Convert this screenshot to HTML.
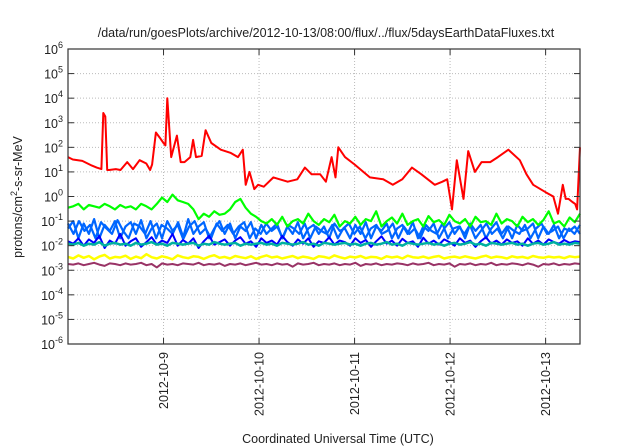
<!DOCTYPE html>
<html><head><meta charset="utf-8"><style>
html,body{margin:0;padding:0;background:#fff;}
svg{display:block;font-family:"Liberation Sans",sans-serif;}
</style></head><body>
<svg id="chart" width="640" height="448" viewBox="0 0 640 448" xmlns="http://www.w3.org/2000/svg">
<rect width="640" height="448" fill="#fff"/>
<text x="326" y="37" font-size="12.5" text-anchor="middle" fill="#222">/data/run/goesPlots/archive/2012-10-13/08:00/flux/../flux/5daysEarthDataFluxes.txt</text>
<text transform="translate(22,197) rotate(-90)" font-size="12.5" text-anchor="middle" fill="#222">protons/cm<tspan dy="-5" font-size="9">2</tspan><tspan dy="5">-s-sr-MeV</tspan></text>
<text x="338" y="443" font-size="12.5" text-anchor="middle" fill="#222">Coordinated Universal Time (UTC)</text>
<g id="grid"></g><g id="series"></g><g id="axes"></g>
</svg>
<script>
const dayLabels = ["2012-10-9","2012-10-10","2012-10-11","2012-10-12","2012-10-13"];
const dayOffsets = [1,2,3,4,5];
const yExponents = [6,5,4,3,2,1,0,-1,-2,-3,-4,-5,-6];
const redDays = [0,0.05,0.15,0.25,0.3,0.35,0.37,0.39,0.41,0.43,0.5,0.55,0.62,0.68,0.75,0.82,0.86,0.88,0.92,0.96,1.0,1.02,1.04,1.08,1.14,1.18,1.22,1.28,1.31,1.34,1.4,1.44,1.5,1.6,1.7,1.78,1.83,1.86,1.9,1.95,1.99,2.05,2.15,2.3,2.4,2.48,2.55,2.64,2.7,2.76,2.8,2.83,2.9,3.0,3.16,3.3,3.4,3.5,3.6,3.7,3.84,3.92,3.97,4.02,4.07,4.14,4.19,4.26,4.33,4.42,4.5,4.61,4.73,4.8,4.87,5.0,5.08,5.13,5.18,5.21,5.24,5.28,5.31,5.33,5.36];
const redVals = [40,32,28,18,15,13,2500,1800,12,12,13,12,25,13,30,22,12,20,400,250,150,120,10000,40,300,25,25,40,200,40,45,500,150,80,60,40,80,3,10,2,3,2.5,6,4,5,15,8,8,4,40,6,100,40,20,6,5,3,5,15,8,3,4,5,0.3,30,0.8,70,10,25,25,40,80,30,8,3,1.5,1,0.2,3,0.8,0.8,0.6,0.5,0.3,100];
const greenVals = [0.35,0.4,0.5,0.3,0.45,0.4,0.35,0.5,0.4,0.3,0.45,0.35,0.4,0.3,0.5,0.4,0.3,0.5,0.9,0.6,1.2,0.7,0.6,0.5,0.3,0.12,0.2,0.15,0.25,0.18,0.2,0.3,0.6,0.8,0.35,0.2,0.15,0.1,0.08,0.12,0.07,0.15,0.06,0.1,0.12,0.08,0.2,0.1,0.07,0.12,0.09,0.18,0.06,0.1,0.08,0.15,0.07,0.12,0.1,0.25,0.06,0.1,0.14,0.08,0.2,0.07,0.1,0.12,0.06,0.16,0.09,0.11,0.07,0.18,0.1,0.08,0.12,0.06,0.15,0.09,0.1,0.07,0.2,0.08,0.12,0.1,0.06,0.15,0.09,0.12,0.07,0.11,0.25,0.08,0.1,0.06,0.14,0.09,0.2];
const azureVals = [0.05,0.1,0.02,0.08,0.03,0.12,0.02,0.07,0.04,0.1,0.02,0.06,0.09,0.03,0.11,0.02,0.05,0.08,0.02,0.1,0.04,0.07,0.02,0.12,0.03,0.06,0.09,0.02,0.05,0.1,0.03,0.08,0.02,0.06,0.04,0.09,0.02,0.07,0.03,0.05,0.08,0.02,0.06,0.03,0.09,0.02,0.05,0.07,0.03,0.06,0.02,0.08,0.04,0.05,0.02,0.07,0.03,0.09,0.02,0.06,0.04,0.08,0.02,0.05,0.07,0.03,0.09,0.02,0.06,0.04,0.08,0.02,0.05,0.09,0.03,0.06,0.02,0.08,0.04,0.07,0.02,0.05,0.09,0.03,0.06,0.02,0.07,0.04,0.05,0.08,0.02,0.06,0.03,0.07,0.02,0.05,0.04,0.06,0.03];
const azureVals2 = [0.08,0.03,0.1,0.04,0.07,0.02,0.09,0.05,0.03,0.11,0.04,0.02,0.08,0.06,0.03,0.1,0.02,0.07,0.05,0.03,0.09,0.02,0.06,0.1,0.03,0.05,0.02,0.08,0.04,0.07,0.03,0.06,0.09,0.02,0.05,0.03,0.08,0.04,0.06,0.02,0.07,0.05,0.03,0.08,0.02,0.06,0.04,0.03,0.07,0.02,0.05,0.08,0.03,0.06,0.02,0.05,0.07,0.03,0.04,0.08,0.02,0.06,0.03,0.05,0.02,0.07,0.04,0.03,0.08,0.02,0.05,0.06,0.03,0.07,0.02,0.04,0.08,0.03,0.05,0.02,0.06,0.04,0.03,0.07,0.02,0.05,0.08,0.03,0.04,0.06,0.02,0.05,0.03,0.07];
const blueVals = [0.015,0.012,0.02,0.01,0.018,0.013,0.025,0.008,0.016,0.012,0.03,0.01,0.015,0.02,0.009,0.014,0.022,0.011,0.016,0.013,0.03,0.01,0.017,0.012,0.02,0.008,0.015,0.025,0.011,0.014,0.018,0.01,0.016,0.022,0.012,0.015,0.009,0.02,0.013,0.016,0.011,0.025,0.014,0.01,0.018,0.012,0.02,0.009,0.015,0.013,0.022,0.011,0.016,0.014,0.01,0.02,0.013,0.017,0.009,0.015,0.024,0.012,0.016,0.01,0.019,0.013,0.015,0.009,0.021,0.012,0.016,0.011,0.018,0.014,0.01,0.02,0.013,0.016,0.009,0.015,0.022,0.012,0.016,0.011,0.018,0.013,0.015,0.01,0.02,0.012,0.016,0.011,0.018,0.014,0.012,0.017,0.013,0.015,0.014];
const tealVals = [0.012,0.011,0.013,0.01,0.012,0.011,0.014,0.01,0.012,0.013,0.011,0.012,0.01,0.013,0.011,0.012,0.014,0.011,0.012,0.01,0.013,0.012,0.011,0.012,0.013,0.01,0.012,0.011,0.014,0.012,0.011,0.012,0.013,0.01,0.012,0.011,0.012,0.013,0.011,0.012,0.01,0.013,0.012,0.011,0.012,0.014,0.011,0.012,0.01,0.013,0.012,0.011,0.012,0.013,0.011,0.012,0.01,0.012,0.013,0.011,0.012,0.014,0.011,0.012,0.01,0.013,0.012,0.011,0.012,0.013,0.011,0.012,0.01,0.012,0.013,0.011,0.012,0.014,0.011,0.012,0.01,0.013,0.012,0.011,0.012,0.013,0.011,0.012,0.01,0.012,0.013,0.011,0.012,0.014,0.011,0.012,0.011,0.013,0.012];
const yellowVals = [0.0035,0.003,0.004,0.0032,0.0038,0.0028,0.0036,0.0042,0.003,0.0035,0.0033,0.0039,0.0029,0.0036,0.0031,0.0045,0.0034,0.003,0.0037,0.0033,0.0028,0.004,0.0034,0.0031,0.0037,0.0035,0.0029,0.0036,0.0041,0.0032,0.0035,0.003,0.0038,0.0034,0.0031,0.0037,0.0029,0.0035,0.004,0.0033,0.0036,0.003,0.0034,0.0038,0.0031,0.0036,0.0033,0.0029,0.0037,0.0035,0.0031,0.004,0.0034,0.003,0.0036,0.0033,0.0038,0.0031,0.0035,0.0034,0.0029,0.0037,0.0033,0.0036,0.003,0.0039,0.0034,0.0032,0.0036,0.0031,0.0035,0.0038,0.003,0.0034,0.0036,0.0032,0.0037,0.0033,0.003,0.0035,0.0039,0.0032,0.0036,0.0034,0.003,0.0037,0.0033,0.0035,0.0031,0.0038,0.0034,0.0032,0.0036,0.0033,0.0035,0.0031,0.0037,0.0034,0.0036];
const purpleVals = [0.0018,0.0017,0.0019,0.0016,0.0018,0.002,0.0017,0.0015,0.0019,0.0018,0.0016,0.0019,0.0017,0.0018,0.002,0.0016,0.0018,0.0013,0.0019,0.0017,0.0018,0.0016,0.0019,0.0018,0.0017,0.002,0.0016,0.0018,0.0017,0.0019,0.0015,0.0018,0.0017,0.0019,0.0016,0.0018,0.002,0.0017,0.0018,0.0016,0.0019,0.0017,0.0018,0.0014,0.0019,0.0017,0.0018,0.002,0.0016,0.0018,0.0017,0.0019,0.0016,0.0018,0.0017,0.002,0.0015,0.0018,0.0017,0.0019,0.0016,0.0018,0.0017,0.0019,0.0018,0.0016,0.0019,0.0017,0.0018,0.002,0.0016,0.0018,0.0017,0.0019,0.0014,0.0018,0.0017,0.0019,0.0016,0.0018,0.0017,0.002,0.0016,0.0018,0.0017,0.0019,0.0018,0.0016,0.0019,0.0017,0.0014,0.0018,0.0017,0.0019,0.0016,0.0018,0.0017,0.0019,0.0018];

const NS="http://www.w3.org/2000/svg";
const L=68,R=580,T=49,B=344,DAYS=5.36;
const xScale=d=>L+d/DAYS*(R-L);
const yScale=v=>T+(6-Math.log10(v))/12*(B-T);
function mk(tag,attrs,parent){const e=document.createElementNS(NS,tag);for(const k in attrs)e.setAttribute(k,attrs[k]);parent.appendChild(e);return e;}
const grid=document.getElementById('grid'),axes=document.getElementById('axes'),series=document.getElementById('series');
yExponents.forEach(e=>{
  const y=yScale(Math.pow(10,e));
  if(e<6&&e>-6){const g=mk('line',{x1:L,x2:R,y1:y,y2:y,stroke:'#bbb','stroke-dasharray':'1,2','stroke-width':1},grid);
  
  }
  mk('line',{x1:L,x2:L+6,y1:y,y2:y,stroke:'#333'},axes);
  mk('line',{x1:R-6,x2:R,y1:y,y2:y,stroke:'#333'},axes);
  const t=mk('text',{x:L-5,y:y+5,'text-anchor':'end','font-size':'12.5',fill:'#222'},axes);
  
  
  t.textContent='10';
  const s=mk('tspan',{dy:-6,'font-size':'9'},t);s.textContent=String(e);
});
dayOffsets.forEach((d,i)=>{
  const x=xScale(d);
  const g=mk('line',{x1:x,x2:x,y1:T,y2:B,stroke:'#bbb','stroke-dasharray':'1,2'},grid);
  
  
  mk('line',{x1:x,x2:x,y1:B-6,y2:B,stroke:'#333'},axes);
  mk('line',{x1:x,x2:x,y1:T,y2:T+6,stroke:'#333'},axes);
  const t=mk('text',{transform:`translate(${x+4.5},352) rotate(-90)`,'text-anchor':'end','font-size':'12.5',fill:'#222'},axes);
  
  
  t.textContent=dayLabels[i];
});
const frame=mk('rect',{x:L,y:T,width:R-L,height:B-T,fill:'none',stroke:'#333','stroke-width':1.2},axes);


function evenLine(vals,color,name,w){
  const pts=vals.map((v,i)=>xScale(i/(vals.length-1)*DAYS).toFixed(1)+','+yScale(v).toFixed(1)).join(' ');
  const p=mk('polyline',{points:pts,fill:'none',stroke:color,'stroke-width':w,'stroke-linejoin':'round'},series);
  
  
}
evenLine(purpleVals,'#993366','series-purple',2);
evenLine(yellowVals,'#ffff00','series-yellow',2.5);
evenLine(azureVals,'#0066ff','series-azure',2.2);
evenLine(azureVals2,'#0066ff','series-azure-b',2.2);
evenLine(blueVals,'#0000ff','series-blue',2);
evenLine(tealVals,'#00b0a0','series-teal',2.5);
evenLine(greenVals,'#00ff00','series-green',2.2);
const rp=redDays.map((d,i)=>xScale(d).toFixed(1)+','+yScale(redVals[i]).toFixed(1)).join(' ');
const red=mk('polyline',{points:rp,fill:'none',stroke:'#ff0000','stroke-width':2,'stroke-linejoin':'round'},series);


</script>
</body></html>
